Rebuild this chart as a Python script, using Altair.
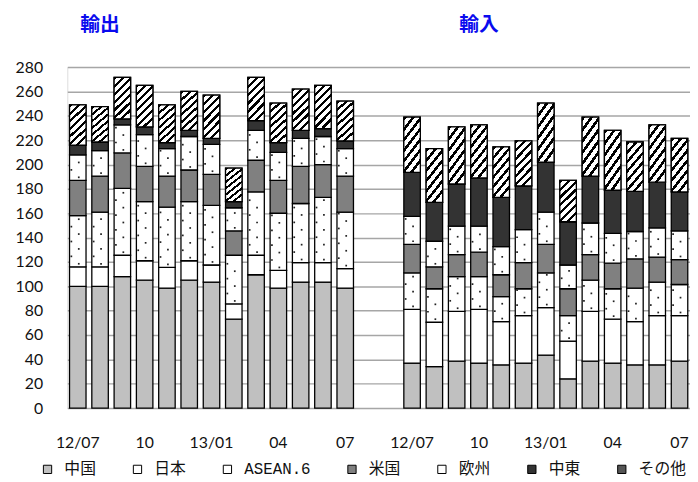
import altair as alt
import pandas as pd

months = ["12/07", "08", "09", "10", "11", "12", "13/01", "02", "03", "04", "05", "06", "07"]
shown_months = ["12/07", "10", "13/01", "04", "07"]
groups = ["輸出", "輸入"]
series = ["中国", "日本", "ASEAN.6", "米国", "欧州", "中東", "その他"]
legend_colors = ["#c0c0c0", "#ffffff", "#ffffff", "#808080", "#ffffff", "#333333", "#555555"]

export_vals = {
    "中国":    [100, 100, 108, 105, 98.5, 105, 103.5, 73, 109.5, 98.5, 103.5, 103.5, 98.5],
    "日本":    [16, 16, 17.5, 16, 17, 16, 14, 12.5, 16, 14.5, 16, 16, 16],
    "ASEAN.6": [42, 45, 55, 48.5, 49.5, 48.5, 49, 40, 52, 47, 48.5, 53.5, 46.5],
    "米国":    [29, 29.5, 29, 29, 25.5, 26, 25.5, 20, 26, 27, 30.5, 27, 29.5],
    "欧州":    [21, 21, 23, 26, 22.5, 27.5, 24.5, 19, 24.5, 23, 23, 23, 22.5],
    "中東":    [8, 7, 5, 6.5, 5, 5, 5, 5, 8, 8, 6.5, 6.5, 6.5],
    "その他":  [33, 29, 34, 34, 31, 32, 35.5, 27.5, 35.5, 32.5, 34, 35.5, 32.5],
}
import_vals = {
    "中国":    [37, 34, 38.5, 37, 35.5, 37, 43.5, 24, 38.5, 37, 35.5, 35.5, 38.5],
    "日本":    [44, 36.5, 41, 44, 35.5, 39, 39, 31, 41, 36, 35.5, 40.5, 37.5],
    "ASEAN.6": [30, 27.5, 28.5, 27, 20.5, 22, 28.5, 21, 25.5, 25, 27.5, 27.5, 25.5],
    "米国":    [23.5, 18, 18, 20, 18, 21.5, 23.5, 22, 21, 21, 24, 20.5, 20.5],
    "欧州":    [23, 21, 23.5, 21.5, 23, 27, 26.5, 19.5, 26, 24.5, 22.5, 24, 23.5],
    "中東":    [36, 32, 34.5, 39.5, 40.5, 36, 41, 35.5, 38.5, 35.5, 33, 37.5, 32],
    "その他":  [45.5, 44, 47, 43.5, 41.5, 37, 48.5, 34, 48.5, 49, 40.5, 47, 44],
}

rows = []
for g, vals in zip(groups, [export_vals, import_vals]):
    for i, m in enumerate(months):
        for o, s in enumerate(series):
            rows.append({"key": f"{g} {m}", "series": s, "order": o, "value": vals[s][i]})
df = pd.DataFrame(rows)

domain = [f"輸出 {m}" for m in months] + ["gap1", "gap2"] + [f"輸入 {m}" for m in months]
label_keys = [f"{g} {m}" for g in groups for m in shown_months]

titles_df = pd.DataFrame({"key": ["輸出 08", "輸入 10"], "label": groups})

AX_FONT = "Lato"

x_enc = alt.X(
    "key:N",
    scale=alt.Scale(domain=domain, paddingInner=0.26, paddingOuter=0.1),
    axis=alt.Axis(
        title=None, values=label_keys, labelExpr="split(datum.value, ' ')[1]",
        labelAngle=0, ticks=False, domain=False, grid=False,
        labelFont=AX_FONT, labelFontSize=16, labelColor="#111", labelPadding=27,
    ),
)


def y_enc(field):
    return alt.Y(
        field,
        scale=alt.Scale(domain=[0, 280], nice=False, zero=True),
        axis=alt.Axis(
            title=None, values=list(range(0, 281, 20)), ticks=False, domain=False,
            grid=True, gridColor="#a6a6a6", gridWidth=1.5,
            labelFont=AX_FONT, labelFontSize=16, labelColor="#111", labelPadding=25,
        ),
    )


base = alt.Chart(df).transform_stack(
    stack="value", groupby=["key"], as_=["v0", "v1"],
    sort=[alt.SortField("order", order="ascending")],
)

bars = base.mark_bar(stroke="black", strokeWidth=1.3).encode(
    x=x_enc,
    y=y_enc("v1:Q"),
    y2="v0:Q",
    color=alt.Color(
        "series:N",
        scale=alt.Scale(domain=series, range=legend_colors),
        legend=alt.Legend(
            title=None, orient="none", direction="horizontal", columns=7,
            legendX=-28, legendY=399,
            symbolType="square", symbolSize=70, symbolStrokeColor="black",
            symbolStrokeWidth=1, symbolOpacity=1,
            labelFont="Liberation Mono, Noto Sans CJK JP", labelFontSize=16,
            labelColor="#111", labelOffset=9, columnPadding=33,
        ),
    ),
)

n_str = 7
stops = []
for k in range(n_str):
    a = k / n_str
    b = (k + 0.4) / n_str
    c = (k + 1) / n_str
    stops += [
        alt.GradientStop(color="#000000", offset=a),
        alt.GradientStop(color="#000000", offset=b),
        alt.GradientStop(color="#ffffff", offset=b),
        alt.GradientStop(color="#ffffff", offset=c),
    ]
hatch_fill = alt.LinearGradient(gradient="linear", stops=stops, x1=0, y1=0, x2=0.45, y2=1.15)

hatch = base.transform_filter(alt.datum.series == "その他").mark_bar(
    fill=hatch_fill, stroke="black", strokeWidth=1.3
).encode(x=x_enc, y=y_enc("v1:Q"), y2="v0:Q")

dots_base = base.transform_filter(
    alt.FieldOneOfPredicate(field="series", oneOf=["ASEAN.6", "欧州"])
).transform_calculate(
    idx="sequence(0, floor((datum.v1 - datum.v0 - 3.5) / 6.1) + 1)"
).transform_flatten(["idx"]).transform_calculate(
    dot="datum.v0 + 2.5 + 6.1 * datum.idx", col="datum.idx % 2"
)

dots_a = dots_base.transform_filter("datum.col == 0").mark_square(
    size=3, color="#222", opacity=1, xOffset=1
).encode(x=x_enc, y=y_enc("dot:Q"))
dots_b = dots_base.transform_filter("datum.col == 1").mark_square(
    size=3, color="#222", opacity=1, xOffset=-6.5
).encode(x=x_enc, y=y_enc("dot:Q"))

titles = alt.Chart(titles_df).mark_text(
    fontSize=20, fontWeight="bold", color="#0a0aee", baseline="middle",
    font="Noto Sans CJK JP",
).encode(x=x_enc, y=alt.value(-43), text="label:N")

chart = alt.layer(bars, hatch, dots_a, dots_b, titles).properties(
    width=630, height=345,
    autosize=alt.AutoSizeParams(type="none"),
    padding={"left": 60, "top": 57, "right": 0, "bottom": 74},
).configure_view(stroke=None).configure(background="white")

chart.save("out.html", embed_options={"renderer": "svg", "actions": False})
